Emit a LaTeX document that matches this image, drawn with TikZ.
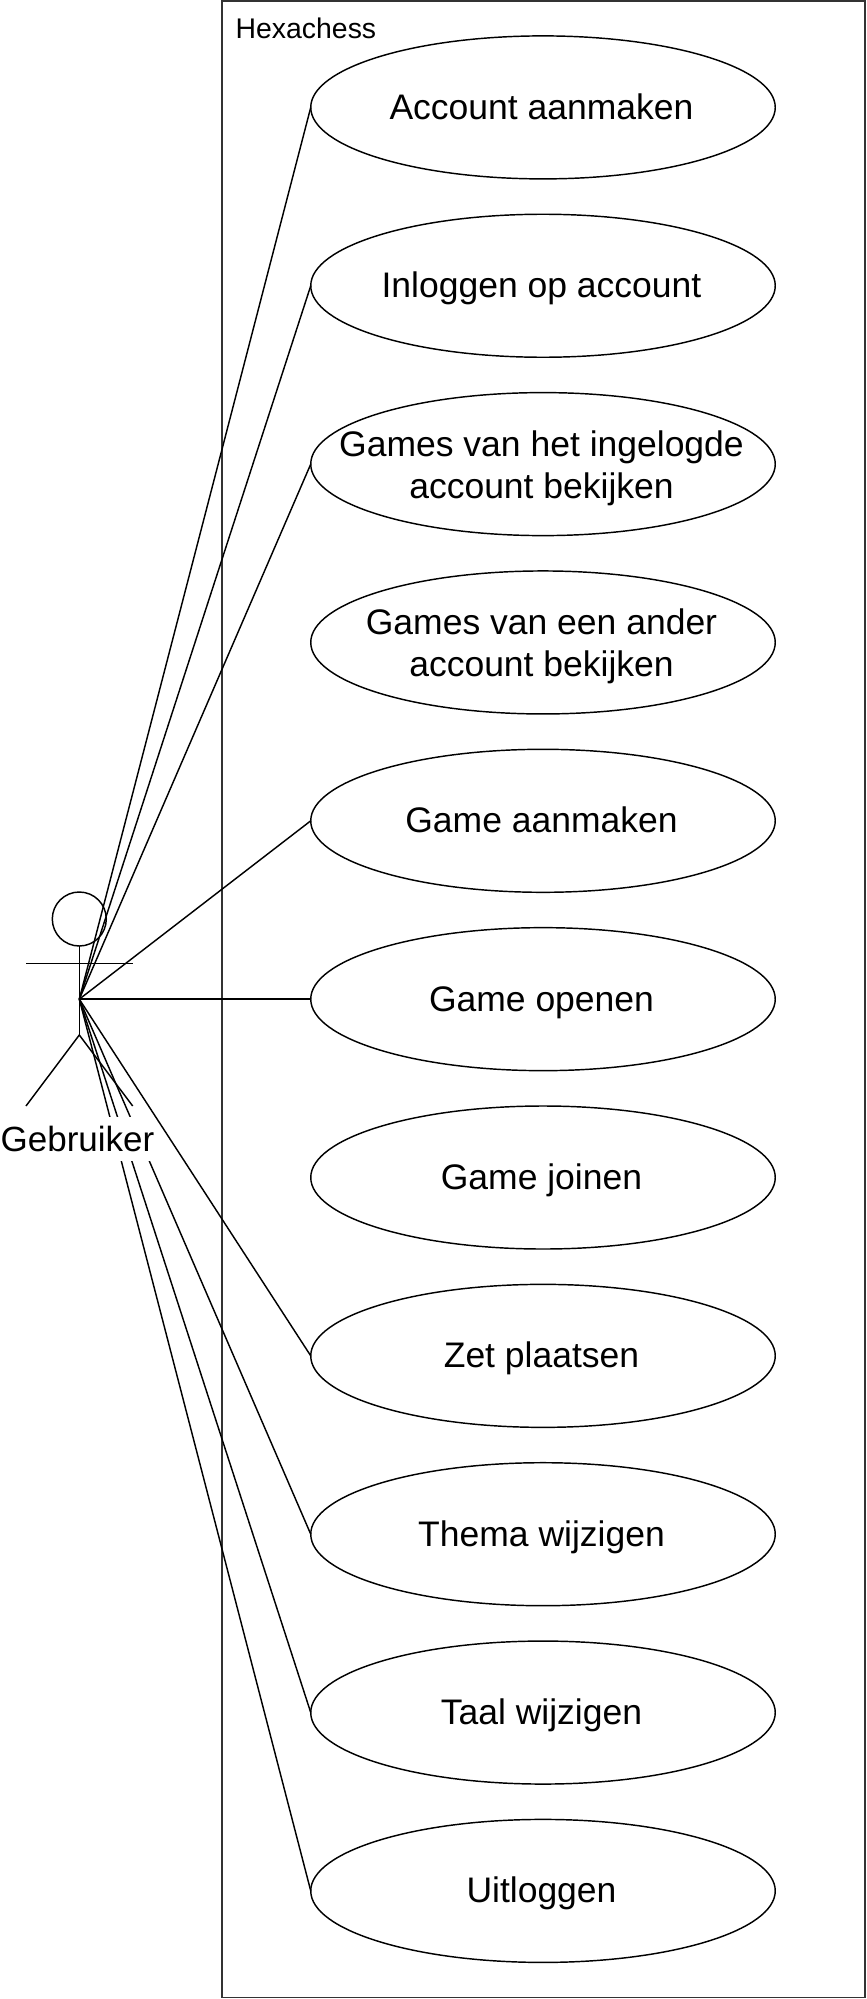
\documentclass[tikz,border=0pt]{standalone}
\usepackage{fontspec}
\setmainfont{Liberation Sans}
\usetikzlibrary{shapes.geometric}
\tikzset{
  x=1pt,y=-1pt,
  ln/.style={line width=1.45pt,draw=black},
  sysbox/.style={line width=1.5pt,draw=black!80,rectangle,inner sep=0pt,outer sep=0pt,minimum width=643pt,minimum height=1996.5pt},
  uc/.style={ln,ellipse,fill=white,inner sep=0pt,outer sep=0pt,minimum width=464.5pt,minimum height=143pt},
  uctext/.style={anchor=base,inner sep=0pt,font=\fontsize{35.5}{42}\selectfont},
  uctwo/.style={align=center,inner sep=0pt,font=\fontsize{35.5}{42}\selectfont},
  head/.style={ln,circle,inner sep=0pt,outer sep=0pt,minimum size=54pt},
  actlabel/.style={fill=white,inner sep=0pt,minimum width=155pt,minimum height=44pt,font=\fontsize{35}{42}\selectfont},
  syslabel/.style={anchor=base west,inner sep=0pt,font=\fontsize{28.4}{33}\selectfont}
}
\begin{document}
\begin{tikzpicture}
\useasboundingbox (0,0) rectangle (867,1999);
\node[sysbox] (sys) at (543.5,999.25) {};
\node[syslabel] (syst) at (235.5,38.3) {Hexachess};
% use cases
\node[uc] (u1) at (543,107.4) {};
\node[uc] (u2) at (543,285.75) {};
\node[uc] (u3) at (543,464.1) {};
\node[uc] (u4) at (543,642.45) {};
\node[uc] (u5) at (543,820.8) {};
\node[uc] (u6) at (543,999.15) {};
\node[uc] (u7) at (543,1177.5) {};
\node[uc] (u8) at (543,1355.85) {};
\node[uc] (u9) at (543,1534.2) {};
\node[uc] (u10) at (543,1712.55) {};
\node[uc] (u11) at (543,1890.9) {};
\node[uctext] (t1) at ([xshift=-1.5pt,yshift=-12pt]u1) {Account aanmaken};
\node[uctext] (t2) at ([xshift=-1.5pt,yshift=-12pt]u2) {Inloggen op account};
\node[uctwo] (t3) at ([xshift=-1.5pt,yshift=-3.8pt]u3) {Games van het ingelogde\\account bekijken};
\node[uctwo] (t4) at ([xshift=-1.5pt,yshift=-3.8pt]u4) {Games van een ander\\account bekijken};
\node[uctext] (t5) at ([xshift=-1.5pt,yshift=-12pt]u5) {Game aanmaken};
\node[uctext] (t6) at ([xshift=-1.5pt,yshift=-12pt]u6) {Game openen};
\node[uctext] (t7) at ([xshift=-1.5pt,yshift=-12pt]u7) {Game joinen};
\node[uctext] (t8) at ([xshift=-1.5pt,yshift=-12pt]u8) {Zet plaatsen};
\node[uctext] (t9) at ([xshift=-1.5pt,yshift=-12pt]u9) {Thema wijzigen};
\node[uctext] (t10) at ([xshift=-1.5pt,yshift=-12pt]u10) {Taal wijzigen};
\node[uctext] (t11) at ([xshift=-1.5pt,yshift=-12pt]u11) {Uitloggen};
% actor
\node[head] (hd) at (79.3,919) {};
\coordinate (hub) at (79.3,999.15);
\coordinate (hip) at (79.3,1035);
\coordinate (armL) at (26,963.7);
\coordinate (armR) at (132.7,963.7);
\coordinate (legL) at (26,1106);
\coordinate (legR) at (132.7,1106);
\draw[ln] (hd.south) -- (hip);
\draw[ln] (armL) -- (armR);
\draw[ln] (legL) -- (hip) -- (legR);
% connectors
\foreach \u in {1,2,3,5,6,8,9,10,11}
  \draw[ln] (hub) -- (u\u.west);
\node[actlabel] (act) at (77.5,1139) {Gebruiker};
\end{tikzpicture}
\end{document}
